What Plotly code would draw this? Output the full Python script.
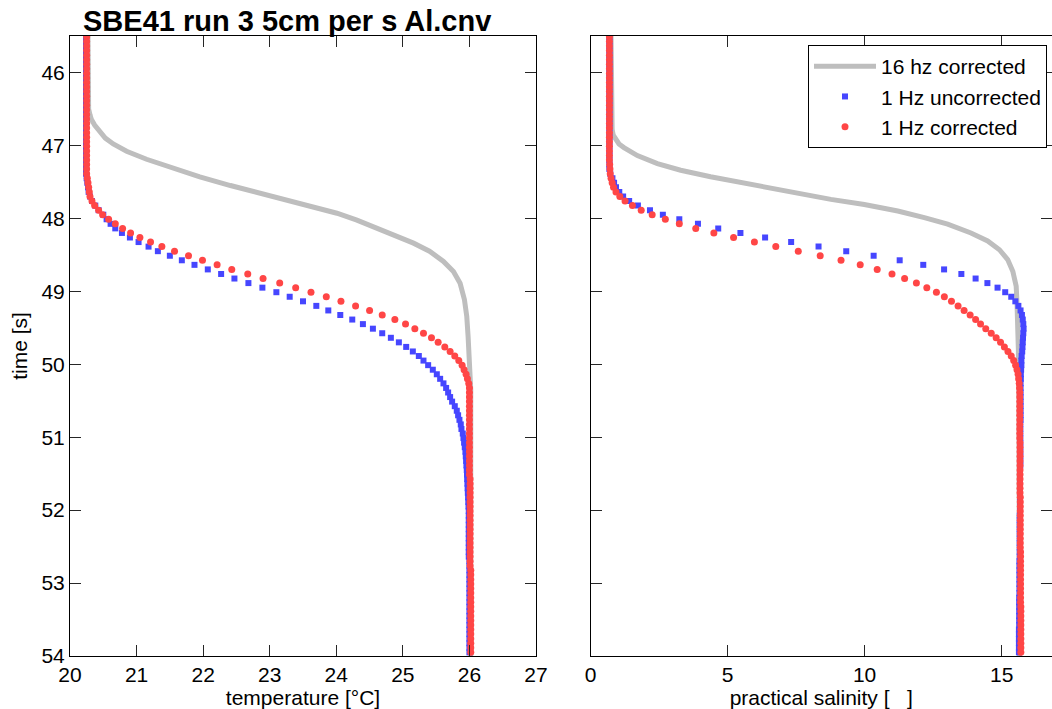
import plotly.graph_objects as go

# ---------------- data ----------------
# sample times of the "1 Hz" records [s]
TIME_1HZ = [
    45.5125, 45.575, 45.6375, 45.7, 45.7625, 45.825, 45.8875, 45.95, 46.0125, 46.075,
    46.1375, 46.2, 46.2625, 46.325, 46.3875, 46.45, 46.5125, 46.575, 46.6375, 46.7,
    46.7625, 46.825, 46.8875, 46.95, 47.0125, 47.075, 47.1375, 47.2, 47.2625, 47.325,
    47.3875, 47.45, 47.5125, 47.575, 47.6375, 47.7, 47.7625, 47.825, 47.8875, 47.95,
    48.0125, 48.075, 48.1375, 48.2, 48.2625, 48.325, 48.3875, 48.45, 48.5125, 48.575,
    48.6375, 48.7, 48.7625, 48.825, 48.8875, 48.95, 49.0125, 49.075, 49.1375, 49.2,
    49.2625, 49.325, 49.3875, 49.45, 49.5125, 49.575, 49.6375, 49.7, 49.7625, 49.825,
    49.8875, 49.95, 50.0125, 50.075, 50.1375, 50.2, 50.2625, 50.325, 50.3875, 50.45,
    50.5125, 50.575, 50.6375, 50.7, 50.7625, 50.825, 50.8875, 50.95, 51.0125, 51.075,
    51.1375, 51.2, 51.2625, 51.325, 51.3875, 51.45, 51.5125, 51.575, 51.6375, 51.7,
    51.7625, 51.825, 51.8875, 51.95, 52.0125, 52.075, 52.1375, 52.2, 52.2625, 52.325,
    52.3875, 52.45, 52.5125, 52.575, 52.6375, 52.7, 52.7625, 52.825, 52.8875, 52.95,
    53.0125, 53.075, 53.1375, 53.2, 53.2625, 53.325, 53.3875, 53.45, 53.5125, 53.575,
    53.6375, 53.7, 53.7625, 53.825, 53.8875, 53.95,
]

# 1 Hz uncorrected temperature [degC]
TEMP_1HZ_UNCORR = [
    20.24, 20.24, 20.24, 20.24, 20.24, 20.24, 20.24, 20.24, 20.24, 20.24,
    20.24, 20.24, 20.24, 20.24, 20.24, 20.24, 20.24, 20.24, 20.24, 20.24,
    20.24, 20.24, 20.24, 20.24, 20.24, 20.24, 20.24, 20.24, 20.24, 20.24,
    20.24, 20.25, 20.26, 20.27, 20.28, 20.30, 20.33, 20.38, 20.43, 20.50,
    20.55, 20.61, 20.68, 20.78, 20.90, 21.03, 21.18, 21.32, 21.50, 21.68,
    21.87, 22.07, 22.27, 22.47, 22.68, 22.89, 23.10, 23.30, 23.50, 23.70,
    23.88, 24.06, 24.24, 24.40, 24.55, 24.69, 24.82, 24.94, 25.05, 25.15,
    25.24, 25.31, 25.38, 25.45, 25.51, 25.56, 25.61, 25.65, 25.68, 25.71,
    25.74, 25.78, 25.81, 25.83, 25.85, 25.87, 25.88, 25.90, 25.91, 25.92,
    25.93, 25.94, 25.945, 25.95, 25.955, 25.96, 25.963, 25.966, 25.97, 25.973,
    25.976, 25.98, 25.983, 25.986, 25.99, 25.99, 25.99, 25.99, 25.99, 25.99,
    25.99, 25.99, 25.99, 25.99, 25.99, 26.00, 26.00, 26.00, 26.00, 26.00,
    26.00, 26.00, 26.00, 26.00, 26.00, 26.00, 26.00, 26.00, 26.00, 26.00,
    26.00, 26.00, 26.00, 26.00, 26.00, 26.00,
]

# 1 Hz corrected temperature [degC]
TEMP_1HZ_CORR = [
    20.25, 20.25, 20.25, 20.25, 20.25, 20.25, 20.25, 20.25, 20.25, 20.25,
    20.25, 20.25, 20.25, 20.25, 20.25, 20.25, 20.25, 20.25, 20.25, 20.25,
    20.25, 20.25, 20.25, 20.25, 20.25, 20.25, 20.25, 20.25, 20.25, 20.25,
    20.25, 20.26, 20.27, 20.28, 20.29, 20.30, 20.33, 20.37, 20.43, 20.49,
    20.58, 20.68, 20.79, 20.91, 21.05, 21.21, 21.38, 21.57, 21.78, 21.99,
    22.21, 22.43, 22.67, 22.90, 23.15, 23.39, 23.62, 23.85, 24.07, 24.29,
    24.50, 24.69, 24.88, 25.04, 25.18, 25.31, 25.43, 25.53, 25.63, 25.71,
    25.78, 25.84, 25.89, 25.92, 25.95, 25.97, 25.99, 26.00, 26.00, 26.00,
    26.00, 26.00, 26.00, 26.00, 26.00, 26.00, 26.00, 26.00, 26.00, 26.00,
    26.00, 26.00, 26.00, 26.00, 26.00, 26.00, 26.00, 26.01, 26.01, 26.01,
    26.01, 26.01, 26.01, 26.01, 26.01, 26.01, 26.01, 26.01, 26.01, 26.01,
    26.01, 26.01, 26.01, 26.01, 26.01, 26.01, 26.01, 26.02, 26.02, 26.02,
    26.02, 26.02, 26.02, 26.02, 26.02, 26.02, 26.02, 26.02, 26.02, 26.02,
    26.02, 26.02, 26.02, 26.02, 26.02, 26.02,
]

# 1 Hz uncorrected practical salinity
SAL_1HZ_UNCORR = [
    0.69, 0.69, 0.69, 0.69, 0.69, 0.69, 0.69, 0.69, 0.69, 0.69,
    0.69, 0.69, 0.69, 0.69, 0.69, 0.69, 0.69, 0.69, 0.69, 0.69,
    0.69, 0.69, 0.69, 0.69, 0.69, 0.69, 0.69, 0.69, 0.69, 0.69,
    0.72, 0.80, 0.86, 0.93, 1.05, 1.19, 1.41, 1.73, 2.17, 2.64,
    3.24, 3.92, 4.66, 5.47, 6.37, 7.32, 8.32, 9.33, 10.33, 11.28,
    12.14, 12.90, 13.53, 14.05, 14.48, 14.85, 15.13, 15.35, 15.50, 15.61,
    15.69, 15.74, 15.77, 15.79, 15.80, 15.79, 15.78, 15.77, 15.76, 15.75,
    15.73, 15.72, 15.72, 15.71, 15.70, 15.70, 15.69, 15.69, 15.69, 15.69,
    15.69, 15.69, 15.69, 15.69, 15.69, 15.68, 15.68, 15.68, 15.68, 15.68,
    15.68, 15.68, 15.68, 15.68, 15.68, 15.67, 15.67, 15.67, 15.67, 15.67,
    15.67, 15.67, 15.67, 15.67, 15.67, 15.66, 15.66, 15.66, 15.66, 15.66,
    15.66, 15.66, 15.66, 15.66, 15.66, 15.65, 15.65, 15.65, 15.65, 15.65,
    15.65, 15.65, 15.65, 15.64, 15.64, 15.64, 15.64, 15.64, 15.64, 15.64,
    15.63, 15.63, 15.63, 15.63, 15.63, 15.63,
]

# 1 Hz corrected practical salinity
SAL_1HZ_CORR = [
    0.69, 0.69, 0.69, 0.69, 0.69, 0.69, 0.69, 0.69, 0.69, 0.69,
    0.69, 0.69, 0.69, 0.69, 0.69, 0.69, 0.69, 0.69, 0.69, 0.69,
    0.69, 0.69, 0.69, 0.69, 0.69, 0.69, 0.69, 0.69, 0.70, 0.71,
    0.72, 0.75, 0.79, 0.84, 0.93, 1.07, 1.26, 1.53, 1.85, 2.25,
    2.73, 3.24, 3.84, 4.50, 5.22, 5.98, 6.76, 7.58, 8.38, 9.14,
    9.84, 10.46, 11.00, 11.46, 11.89, 12.27, 12.62, 12.91, 13.17, 13.41,
    13.63, 13.85, 14.05, 14.23, 14.42, 14.62, 14.80, 14.96, 15.10, 15.23,
    15.35, 15.44, 15.51, 15.56, 15.60, 15.62, 15.64, 15.65, 15.66, 15.66,
    15.66, 15.66, 15.66, 15.66, 15.66, 15.66, 15.66, 15.66, 15.66, 15.67,
    15.67, 15.67, 15.67, 15.67, 15.67, 15.67, 15.67, 15.67, 15.67, 15.67,
    15.67, 15.68, 15.68, 15.68, 15.68, 15.68, 15.68, 15.68, 15.68, 15.68,
    15.68, 15.68, 15.68, 15.69, 15.69, 15.69, 15.69, 15.69, 15.69, 15.69,
    15.69, 15.69, 15.69, 15.69, 15.69, 15.70, 15.70, 15.70, 15.70, 15.70,
    15.70, 15.70, 15.70, 15.70, 15.70, 15.70,
]

# 16 Hz corrected temperature profile (line)
TIME_16HZ_T = [45.5, 46.40, 46.50, 46.58, 46.64, 46.72, 46.82, 46.90, 46.98, 47.08,
               47.19, 47.30, 47.43, 47.55, 47.66, 47.79, 47.85, 47.93, 48.025, 48.13,
               48.235, 48.34, 48.45, 48.59, 48.73, 48.89, 49.115, 49.345, 49.62, 50.03,
               50.35, 54.0]
TEMP_16HZ_CORR = [20.27, 20.27, 20.28, 20.30, 20.32, 20.37, 20.45, 20.53, 20.65, 20.85,
                  21.15, 21.51, 21.95, 22.41, 22.86, 23.41, 23.71, 24.01, 24.31, 24.61,
                  24.91, 25.16, 25.40, 25.61, 25.76, 25.86, 25.925, 25.96, 25.98, 26.00,
                  26.02, 26.02]

# 16 Hz corrected salinity profile (line)
TIME_16HZ_S = [45.5, 46.55, 46.64, 46.78, 46.86, 46.92, 46.98, 47.03, 47.08, 47.14,
               47.25, 47.34, 47.43, 47.51, 47.59, 47.66, 47.74, 47.81, 47.90, 47.99,
               48.08, 48.20, 48.31, 48.43, 48.565, 48.73, 48.93, 49.16, 49.435, 49.80,
               50.5, 51.5, 52.5, 54.0]
SAL_16HZ_CORR = [0.75, 0.75, 0.76, 0.79, 0.83, 0.91, 1.04, 1.22, 1.45, 1.71,
                 2.44, 3.29, 4.38, 5.48, 6.58, 7.67, 8.77, 9.99, 11.21, 12.18,
                 13.03, 13.88, 14.49, 14.92, 15.22, 15.41, 15.53, 15.56, 15.59, 15.61,
                 15.63, 15.64, 15.65, 15.65]

TEMP_TICKS = [20, 21, 22, 23, 24, 25, 26, 27]
SAL_TICKS = [0, 5, 10, 15]
TIME_TICKS = [46, 47, 48, 49, 50, 51, 52, 53, 54]

# ---------------- styling ----------------
GREY = "#bebebe"
BLUE = "#4646ff"
RED = "#ff4646"
FONT = "Liberation Sans, Arial, sans-serif"
BLUE_SIZE = 6
RED_SIZE = 7

fig = go.Figure()

# left panel: temperature
fig.add_trace(go.Scatter(x=TEMP_16HZ_CORR, y=TIME_16HZ_T, mode="lines",
                         line=dict(color=GREY, width=5), xaxis="x", yaxis="y",
                         name="16 hz corrected", showlegend=False))
fig.add_trace(go.Scatter(x=TEMP_1HZ_UNCORR, y=TIME_1HZ, mode="markers",
                         marker=dict(color=BLUE, size=BLUE_SIZE, symbol="square"),
                         xaxis="x", yaxis="y", name="1 Hz uncorrected", showlegend=False))
fig.add_trace(go.Scatter(x=TEMP_1HZ_CORR, y=TIME_1HZ, mode="markers",
                         marker=dict(color=RED, size=RED_SIZE, symbol="circle"),
                         xaxis="x", yaxis="y", name="1 Hz corrected", showlegend=False))

# right panel: salinity
fig.add_trace(go.Scatter(x=SAL_16HZ_CORR, y=TIME_16HZ_S, mode="lines",
                         line=dict(color=GREY, width=5), xaxis="x2", yaxis="y2",
                         name="16 hz corrected"))
fig.add_trace(go.Scatter(x=SAL_1HZ_UNCORR, y=TIME_1HZ, mode="markers",
                         marker=dict(color=BLUE, size=BLUE_SIZE, symbol="square"),
                         xaxis="x2", yaxis="y2", name="1 Hz uncorrected"))
fig.add_trace(go.Scatter(x=SAL_1HZ_CORR, y=TIME_1HZ, mode="markers",
                         marker=dict(color=RED, size=RED_SIZE, symbol="circle"),
                         xaxis="x2", yaxis="y2", name="1 Hz corrected"))

W, H = 1052, 709
ML, MR, MT, MB = 70, 0, 36, 53
PW = W - ML - MR
PH = H - MT - MB

def px_x(p):
    return (p - ML) / PW

def px_y(p):
    return (H - MB - p) / PH

axis_common = dict(
    ticks="inside", ticklen=11, tickwidth=1, tickcolor="#262626",
    showline=True, linecolor="black", linewidth=1, mirror="ticks",
    showgrid=False, zeroline=False,
    tickfont=dict(family=FONT, size=21, color="black"),
    automargin=False,
)

fig.update_layout(
    width=W, height=H,
    margin=dict(l=ML, r=MR, t=MT, b=MB, pad=0),
    paper_bgcolor="white", plot_bgcolor="white",
    font=dict(family=FONT, size=21, color="black"),
    xaxis=dict(domain=[0, px_x(536)], range=[20, 27], tickvals=TEMP_TICKS,
               anchor="y",
               title=dict(text="temperature [°C]", standoff=8,
                          font=dict(family=FONT, size=21, color="black")),
               **axis_common),
    yaxis=dict(domain=[0, 1], range=[54, 45.5], tickvals=TIME_TICKS, anchor="x",
               title=dict(text="time [s]", standoff=8,
                          font=dict(family=FONT, size=21, color="black")),
               **axis_common),
    xaxis2=dict(domain=[px_x(590.5), 1], range=[0, (W - 590.5) / 27.41],
                tickvals=SAL_TICKS, anchor="y2",
                title=dict(text="practical salinity [   ]", standoff=8,
                           font=dict(family=FONT, size=21, color="black")),
                **axis_common),
    yaxis2=dict(domain=[0, 1], range=[54, 45.5], tickvals=TIME_TICKS, anchor="x2",
                showticklabels=False, **axis_common),
    legend=dict(x=px_x(808), y=px_y(45), xanchor="left", yanchor="top",
                bordercolor="black", borderwidth=1, bgcolor="white",
                font=dict(family=FONT, size=21, color="black"),
                itemwidth=62, tracegroupgap=0),
    annotations=[dict(text="<b>SBE41 run 3 5cm per s Al.cnv</b>",
                      xref="paper", yref="paper", x=px_x(286.5), y=px_y(21),
                      xanchor="center", yanchor="middle", showarrow=False,
                      font=dict(family=FONT, size=29, color="black"))],
    showlegend=True,
)

fig.write_html("out.html")
